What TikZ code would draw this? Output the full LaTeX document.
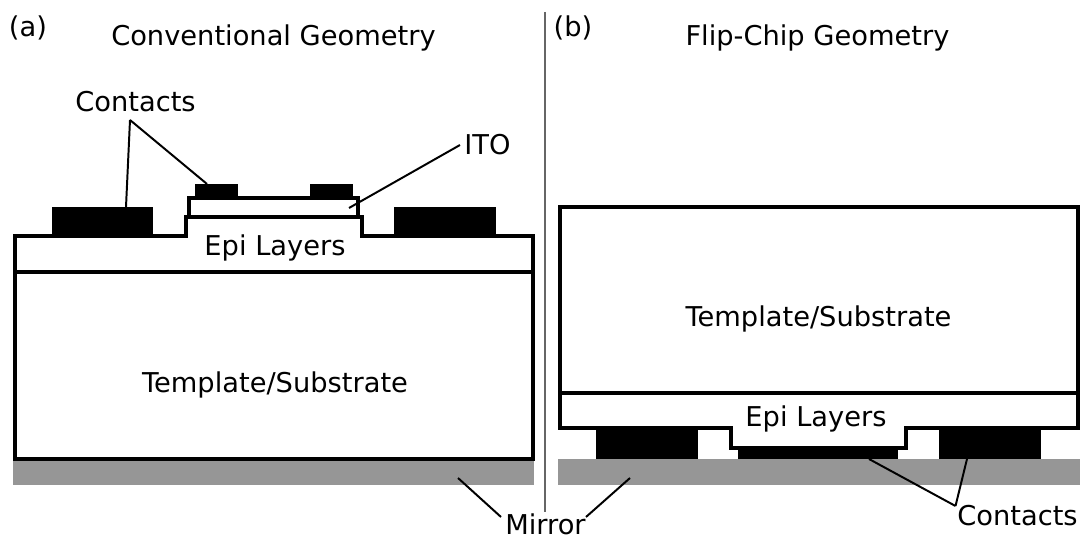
\documentclass[tikz,border=0pt]{standalone}
\usepackage{fontspec}
\setmainfont{DejaVu Sans}
\usetikzlibrary{positioning}
\tikzset{
  layer/.style={draw=black,line width=2.5pt,fill=white,line join=miter},
  contact/.style={fill=black,draw=none},
  mirror/.style={fill=black!41,draw=none},
  leader/.style={black,line width=1.4pt},
  label/.style={font=\fontsize{19.4}{23}\selectfont,text=black,inner sep=0pt},
}
\begin{document}
\begin{tikzpicture}[x=0.025cm,y=-0.025cm]
\useasboundingbox (0,0) rectangle (1080,537);

% panel a
\draw[mirror] (13,459) rectangle (534,485);
\draw[layer] (15,236) -- (186,236) -- (186,217) -- (362,217) -- (362,236) -- (533,236) -- (533,459) -- (15,459) -- cycle;
\draw[layer] (15,272) -- (533,272);
\draw[layer] (189,198) rectangle (358,217);
\draw[contact] (52,207) rectangle (153,236);
\draw[contact] (394,207) rectangle (496,236);
\draw[contact] (195,184) rectangle (238,198);
\draw[contact] (310,184) rectangle (353,198);

% panel b
\draw[mirror] (558,459) rectangle (1080,485);
\draw[layer] (1078,207) -- (560,207) -- (560,428) -- (731,428) -- (731,448) -- (906,448) -- (906,428) -- (1078,428) -- cycle;
\draw[layer] (560,393) -- (1078,393);
\draw[contact] (596,428) rectangle (698,459);
\draw[contact] (939,428) rectangle (1041,459);
\draw[contact] (738,448) rectangle (898,459);

\draw[black!60,line width=1pt] (545,12) -- (545,512);

\node[label] (tagA) at (28,28) {(a)};
\node[label] (tagB) at (573,28) {(b)};
\node[label] (titleA) at (273.5,38) {Conventional Geometry};
\node[label] (titleB) at (817.5,38) {Flip-Chip Geometry};
\node[label] (subA) at (275,385) {Template/Substrate};
\node[label] (subB) at (818.5,319) {Template/Substrate};
\node[label] (epiA) at (275,248) {Epi Layers};
\node[label] (epiB) at (816,419) {Epi Layers};
\node[label] (contactsA) at (135.5,102) {Contacts};
\node[label] (contactsB) at (1017.5,516) {Contacts};
\node[label] (ito) at (487.5,145) {ITO};
\node[label] (mirrorL) at (545.5,524) {Mirror};

\coordinate (apexA) at (130,120);
\coordinate (apexB) at (955.5,506);
\coordinate (itoEnd) at (349,208);
\coordinate (itoStart) at (460,145);
\coordinate (mirA) at (458,478);
\coordinate (mirB) at (630,478);
\coordinate (mirAs) at (501,517);
\coordinate (mirBs) at (586,517);

\draw[leader] (apexA) -- (126,207);
\draw[leader] (apexA) -- (207,184);
\draw[leader] (itoStart) -- (itoEnd);
\draw[leader] (mirAs) -- (mirA);
\draw[leader] (mirBs) -- (mirB);
\draw[leader] (apexB) -- (869,459);
\draw[leader] (apexB) -- (967,459);
\end{tikzpicture}
\end{document}
